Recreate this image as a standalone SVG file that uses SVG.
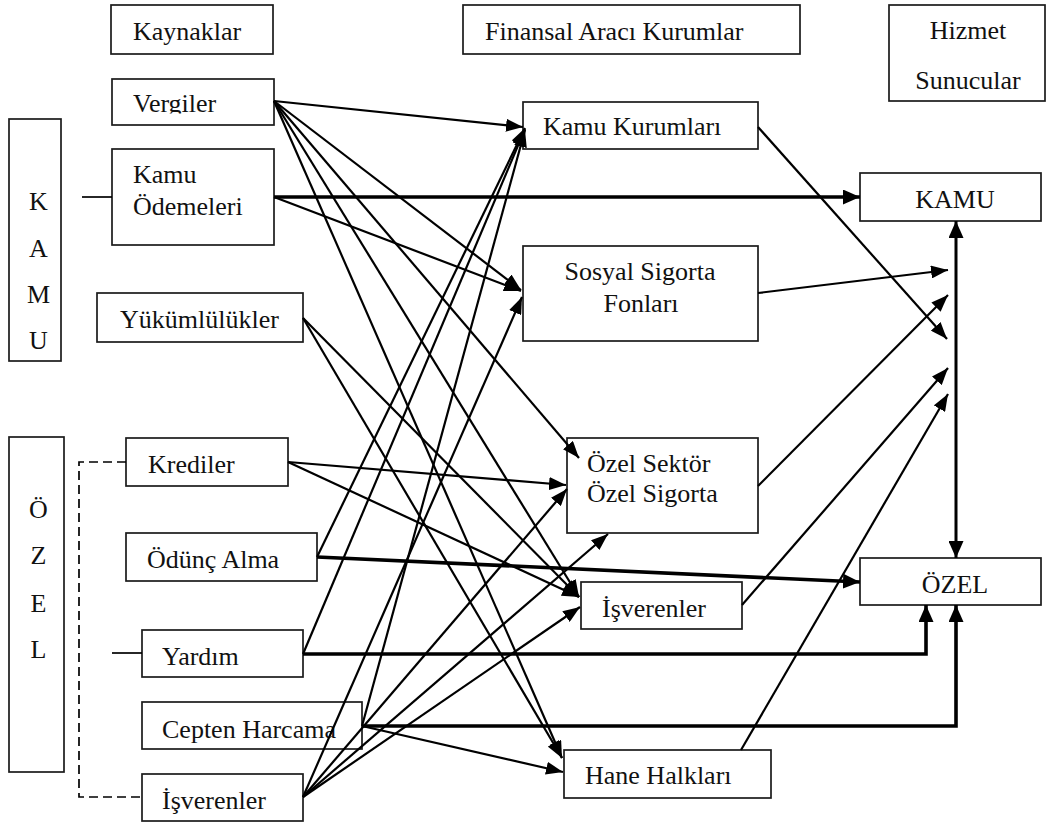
<svg xmlns="http://www.w3.org/2000/svg" width="1047" height="822" viewBox="0 0 1047 822">
  <defs>
    <style>
      .box { fill: #fff; stroke: #1a1a1a; stroke-width: 1.7; }
      .t { font-family: "Liberation Serif", "Times New Roman", serif; font-size: 26px; fill: #111; }
      .mid { text-anchor: middle; }
      .c { fill: none; stroke: #000; stroke-width: 2.2; marker-end: url(#ah); }
      .ck { fill: none; stroke: #000; stroke-width: 3.6; marker-end: url(#ahk); }
      .plain { fill: none; stroke: #000; stroke-width: 1.7; }
      .dash { fill: none; stroke: #000; stroke-width: 1.7; stroke-dasharray: 9 5; }
    </style>
    <marker id="ah" markerUnits="userSpaceOnUse" markerWidth="17" markerHeight="13" refX="17" refY="6.5" orient="auto">
      <path d="M0,0 L17,6.5 L0,13 z" fill="#000"/>
    </marker>
    <marker id="ahk" markerUnits="userSpaceOnUse" markerWidth="17" markerHeight="15" refX="17" refY="7.5" orient="auto-start-reverse">
      <path d="M0,0 L17,7.5 L0,15 z" fill="#000"/>
    </marker>
    <clipPath id="clipVergiler">
      <rect x="112" y="79" width="162" height="34.5"/>
    </clipPath>
  </defs>

  <!-- column headers -->
  <g id="hdr-kaynaklar">
    <rect class="box" x="111" y="5" width="162" height="49"/>
    <text class="t" x="133" y="40">Kaynaklar</text>
  </g>
  <g id="hdr-finansal">
    <rect class="box" x="463" y="5" width="337" height="49"/>
    <text class="t" x="485" y="40">Finansal Aracı Kurumlar</text>
  </g>
  <g id="hdr-hizmet">
    <rect class="box" x="889" y="5" width="156" height="96"/>
    <text class="t mid" x="968" y="39">Hizmet</text>
    <text class="t mid" x="968" y="89">Sunucular</text>
  </g>

  <!-- sector bars -->
  <g id="sector-kamu">
    <rect class="box" x="9" y="119" width="52" height="242"/>
    <text class="t mid" x="38.5" y="210">K</text>
    <text class="t mid" x="38.5" y="257">A</text>
    <text class="t mid" x="38.5" y="303">M</text>
    <text class="t mid" x="38.5" y="349">U</text>
  </g>
  <g id="sector-ozel">
    <rect class="box" x="9" y="437" width="55" height="335"/>
    <text class="t mid" x="38.5" y="518">Ö</text>
    <text class="t mid" x="38.5" y="564">Z</text>
    <text class="t mid" x="38.5" y="612">E</text>
    <text class="t mid" x="38.5" y="658">L</text>
  </g>

  <!-- sources -->
  <g id="src-vergiler">
    <rect class="box" x="112" y="79" width="162" height="46"/>
    <text class="t" x="133" y="112" clip-path="url(#clipVergiler)">Vergiler</text>
  </g>
  <g id="src-kamu-odemeleri">
    <rect class="box" x="112" y="149" width="162" height="96"/>
    <text class="t" x="133" y="183">Kamu</text>
    <text class="t" x="133" y="215">Ödemeleri</text>
  </g>
  <g id="src-yukumlulukler">
    <rect class="box" x="97" y="293" width="206" height="49"/>
    <text class="t" x="120" y="328">Yükümlülükler</text>
  </g>
  <g id="src-krediler">
    <rect class="box" x="126" y="438" width="162" height="48"/>
    <text class="t" x="148" y="473">Krediler</text>
  </g>
  <g id="src-odunc-alma">
    <rect class="box" x="126" y="533" width="191" height="48"/>
    <text class="t" x="147" y="568">Ödünç Alma</text>
  </g>
  <g id="src-yardim">
    <rect class="box" x="142" y="630" width="161" height="47"/>
    <text class="t" x="162" y="665">Yardım</text>
  </g>
  <g id="src-cepten">
    <rect class="box" x="142" y="702" width="220" height="47"/>
    <text class="t" x="162" y="738">Cepten Harcama</text>
  </g>
  <g id="src-isverenler">
    <rect class="box" x="142" y="774" width="161" height="47"/>
    <text class="t" x="162" y="809">İşverenler</text>
  </g>

  <!-- intermediaries -->
  <g id="mid-kamu-kurumlari">
    <rect class="box" x="523" y="102" width="235" height="47"/>
    <text class="t" x="543" y="135">Kamu Kurumları</text>
  </g>
  <g id="mid-sosyal">
    <rect class="box" x="523" y="246" width="235" height="95"/>
    <text class="t mid" x="640" y="280">Sosyal Sigorta</text>
    <text class="t mid" x="641" y="312">Fonları</text>
  </g>
  <g id="mid-ozel-sektor">
    <rect class="box" x="567" y="438" width="191" height="95"/>
    <text class="t" x="587" y="472">Özel Sektör</text>
    <text class="t" x="587" y="502">Özel Sigorta</text>
  </g>
  <g id="mid-isverenler">
    <rect class="box" x="581" y="582" width="161" height="47"/>
    <text class="t" x="602" y="617">İşverenler</text>
  </g>
  <g id="mid-hane">
    <rect class="box" x="564" y="750" width="207" height="48"/>
    <text class="t" x="585" y="784">Hane Halkları</text>
  </g>

  <!-- providers -->
  <g id="prov-kamu">
    <rect class="box" x="860" y="173" width="181" height="48"/>
    <text class="t mid" x="955" y="208">KAMU</text>
  </g>
  <g id="prov-ozel">
    <rect class="box" x="860" y="558" width="181" height="47"/>
    <text class="t mid" x="955" y="593">ÖZEL</text>
  </g>

  <!-- connectors -->
  <g id="connectors">
    <!-- sector bars to sources -->
    <path class="plain" d="M82,197 H112"/>
    <path class="plain" d="M112,653 H142"/>
    <path class="dash" d="M126,462 H79 V797 H142"/>

    <!-- Vergiler -->
    <path class="c" d="M274,101 L523,127"/>
    <path class="c" d="M274,101 L521,290"/>
    <path class="c" d="M274,101 L579,458"/>
    <path class="c" d="M274,101 L579,597"/>
    <path class="c" d="M274,101 L562,758"/>
    <!-- Kamu Ödemeleri -->
    <path class="c" d="M274,197 L521,291"/>
    <!-- Yükümlülükler -->
    <path class="c" d="M303,318 L579,597"/>
    <path class="c" d="M303,318 L562,758"/>
    <!-- Krediler -->
    <path class="c" d="M288,462 L566,485"/>
    <path class="c" d="M288,462 L579,597"/>
    <!-- Ödünç Alma, Yardım, Cepten Harcama to Kamu Kurumları -->
    <path class="c" d="M317,557 L525,128"/>
    <path class="c" d="M303,654 L525,129"/>
    <path class="c" d="M362,726 L525,130"/>
    <!-- İşverenler (source) -->
    <path class="c" d="M303,797 L522,297"/>
    <path class="c" d="M303,797 L567,489"/>
    <path class="c" d="M303,797 L608,534"/>
    <path class="c" d="M303,797 L580,607"/>
    <!-- Cepten Harcama to Hane Halkları -->
    <path class="c" d="M362,726 L563,772"/>

    <!-- intermediaries to providers -->
    <path class="c" d="M758,127 L947,339"/>
    <path class="c" d="M758,293 L948,270"/>
    <path class="c" d="M758,486 L948,295"/>
    <path class="c" d="M742,605 L948,368"/>
    <path class="c" d="M741,750 L948,394"/>

    <!-- direct flows -->
    <path class="ck" d="M274,197 L860,197"/>
    <path class="ck" d="M317,557 L860,582"/>
    <path class="ck" d="M303,654 H926 V605"/>
    <path class="ck" d="M362,726 H956 V605"/>
    <path class="ck" style="stroke-width:3;marker-start:url(#ahk)" d="M956,221 V558"/>
  </g>
</svg>
